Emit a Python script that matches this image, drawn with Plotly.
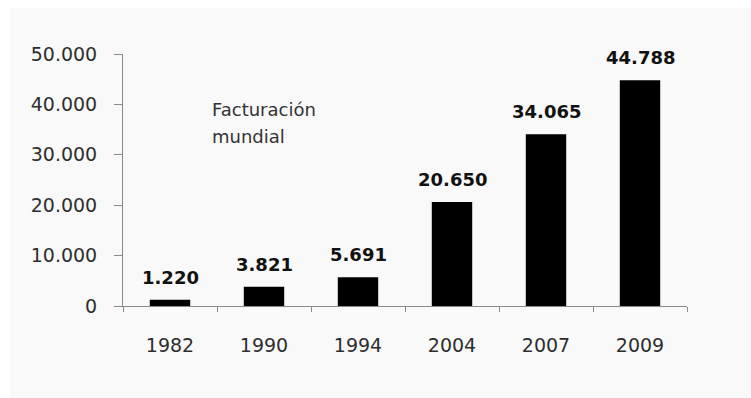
import plotly.graph_objects as go

years = ["1982", "1990", "1994", "2004", "2007", "2009"]
values = [1220, 3821, 5691, 20650, 34065, 44788]
value_labels = ["1.220", "3.821", "5.691", "20.650", "34.065", "44.788"]
y_ticks = [0, 10000, 20000, 30000, 40000, 50000]
y_tick_labels = ["0", "10.000", "20.000", "30.000", "40.000", "50.000"]
note_lines = ["Facturación", "mundial"]

FONT = "DejaVu Sans"

fig = go.Figure()
fig.add_trace(go.Bar(
    x=years, y=values,
    marker=dict(color="#000000", line=dict(width=0)),
    hoverinfo="skip",
))

# on a category axis, annotation x is the category index
for i, (v, lab) in enumerate(zip(values, value_labels)):
    fig.add_annotation(
        x=i, y=v, text=lab, showarrow=False,
        xanchor="center", yanchor="bottom", yshift=10,
        font=dict(family=FONT, size=18, color="#111111", weight="bold"),
    )

for k, line in enumerate(note_lines):
    fig.add_annotation(
        xref="paper", yref="paper", x=0.155, y=0.83 - k * 0.107,
        xanchor="left", yanchor="top", align="left",
        text=line, showarrow=False,
        font=dict(family=FONT, size=18, color="#333333"),
    )

# light gray panel behind chart
fig.add_shape(
    type="rect", xref="paper", yref="paper",
    x0=-0.2, x1=1.3, y0=-0.5, y1=1.1825,
    fillcolor="#f9f9f9", line=dict(width=0), layer="below",
)

fig.update_layout(
    width=751, height=398,
    margin=dict(l=123, r=64, t=54, b=92),
    paper_bgcolor="#ffffff",
    plot_bgcolor="rgba(0,0,0,0)",
    bargap=0.57,
    showlegend=False,
    font=dict(family=FONT, color="#333333"),
)
fig.update_xaxes(
    type="category",
    range=[-0.5, len(years) - 0.5],
    showline=True, linecolor="#8a8a8a", linewidth=1,
    ticks="outside", ticklen=5, tickcolor="#8a8a8a", tickson="boundaries",
    tickfont=dict(family=FONT, size=19, color="#2e2e2e"),
    tickangle=0,
    ticklabelstandoff=22,
    showgrid=False, zeroline=False,
)
fig.update_yaxes(
    range=[0, 50000],
    tickvals=y_ticks, ticktext=y_tick_labels,
    showline=True, linecolor="#8a8a8a", linewidth=1,
    ticks="outside", ticklen=8, tickcolor="#8a8a8a",
    tickfont=dict(family=FONT, size=19, color="#2e2e2e"),
    ticklabelstandoff=13,
    showgrid=False, zeroline=False,
)

fig.write_html("out.html")
